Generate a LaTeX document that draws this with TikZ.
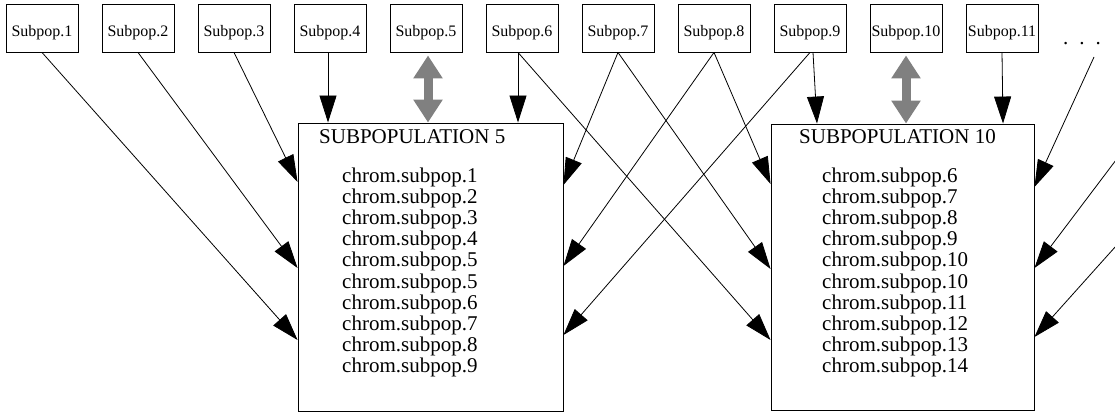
\documentclass[tikz,border=0pt]{standalone}
\usepackage{fontspec}
\setmainfont{Liberation Serif}
\usetikzlibrary{arrows.meta}
\definecolor{dgray}{RGB}{128,128,128}
\begin{document}
\begin{tikzpicture}[x=1pt,y=-1pt,
  subbox/.style={draw, line width=0.9pt, minimum width=72pt, minimum height=48pt, inner sep=0pt,
    font=\fontsize{16}{16}\selectfont, text height=18pt, text depth=0pt},
  bigbox/.style={draw, line width=0.9pt, inner sep=0pt},
  bigtext/.style={anchor=base west, inner sep=0pt, font=\fontsize{21}{21}\selectfont},
  conn/.style={-{Triangle[length=27pt,width=17pt]}, line width=0.8pt},
  dbl/.style={{Triangle[length=23pt,width=28pt]}-{Triangle[length=23pt,width=28pt]}, line width=9pt, draw=dgray, fill=dgray}
]
\useasboundingbox (0,0) rectangle (1115,412);

% top subpopulation boxes
\foreach \i in {1,...,11} {
  \node[subbox] (s\i) at ({42+96*(\i-1)}, 28) {Subpop.\i};
}
\node[anchor=base, inner sep=0pt, font=\fontsize{21}{21}\selectfont] (dots) at (1082,45) {.\hspace{11pt}.\hspace{11pt}.};

% big boxes
\node[bigbox, minimum width=265pt, minimum height=288pt] (B5) at (430.5,267) {};
\node[bigbox, minimum width=263pt, minimum height=286pt] (B10) at (902.5,267) {};

\node[bigtext] (t5) at (319,143) {SUBPOPULATION 5};
\node[bigtext] (t10) at (799,143) {SUBPOPULATION 10};

\foreach \t [count=\i] in {1,2,3,4,5,5,6,7,8,9} {
  \node[bigtext] (a\i) at (342, {182+21.2*(\i-1)}) {chrom.subpop.\t};
}
\foreach \t [count=\i] in {6,7,8,9,10,10,11,12,13,14} {
  \node[bigtext] (b\i) at (822, {182+21.2*(\i-1)}) {chrom.subpop.\t};
}

% connectors into SUBPOPULATION 5
\draw[conn] (s1.south) -- (B5.west |- 0,340);
\draw[conn] (s2.south) -- (B5.west |- 0,268);
\draw[conn] (s3.south) -- (B5.west |- 0,182);
\draw[conn] ([xshift=-2pt]s4.south) -- ([xshift=-2pt]s4.south |- B5.north);
\draw[dbl, shorten <=3pt] ([xshift=2pt]s5.south) -- ([xshift=2pt]s5.south |- B5.north);
\draw[conn] ([xshift=-4pt]s6.south) -- ([xshift=-4pt]s6.south |- B5.north);
\draw[conn] (s7.south) -- (B5.east |- 0,185);
\draw[conn] (s8.south) -- (B5.east |- 0,266);
\draw[conn] (s9.south) -- (B5.east |- 0,335);

% connectors into SUBPOPULATION 10
\draw[conn] ([xshift=-4pt]s6.south) -- (B10.west |- 0,340);
\draw[conn] (s7.south) -- (B10.west |- 0,269);
\draw[conn] (s8.south) -- (B10.west |- 0,184);
\draw[conn] ([xshift=3pt]s9.south) -- ([xshift=7pt]s9.south |- B10.north);
\draw[dbl, shorten <=3pt] (s10.south) -- (s10.south |- B10.north);
\draw[conn] (s11.south) -- ([xshift=1pt]s11.south |- B10.north);

\coordinate (r1) at (1094,57);
\coordinate (r2) at (1116,160);
\coordinate (r3) at (1116,246);
\draw[conn] (r1) -- (B10.east |- 0,187);
\draw[conn] (r2) -- (B10.east |- 0,268);
\draw[conn] (r3) -- (B10.east |- 0,337);
\end{tikzpicture}
\end{document}
